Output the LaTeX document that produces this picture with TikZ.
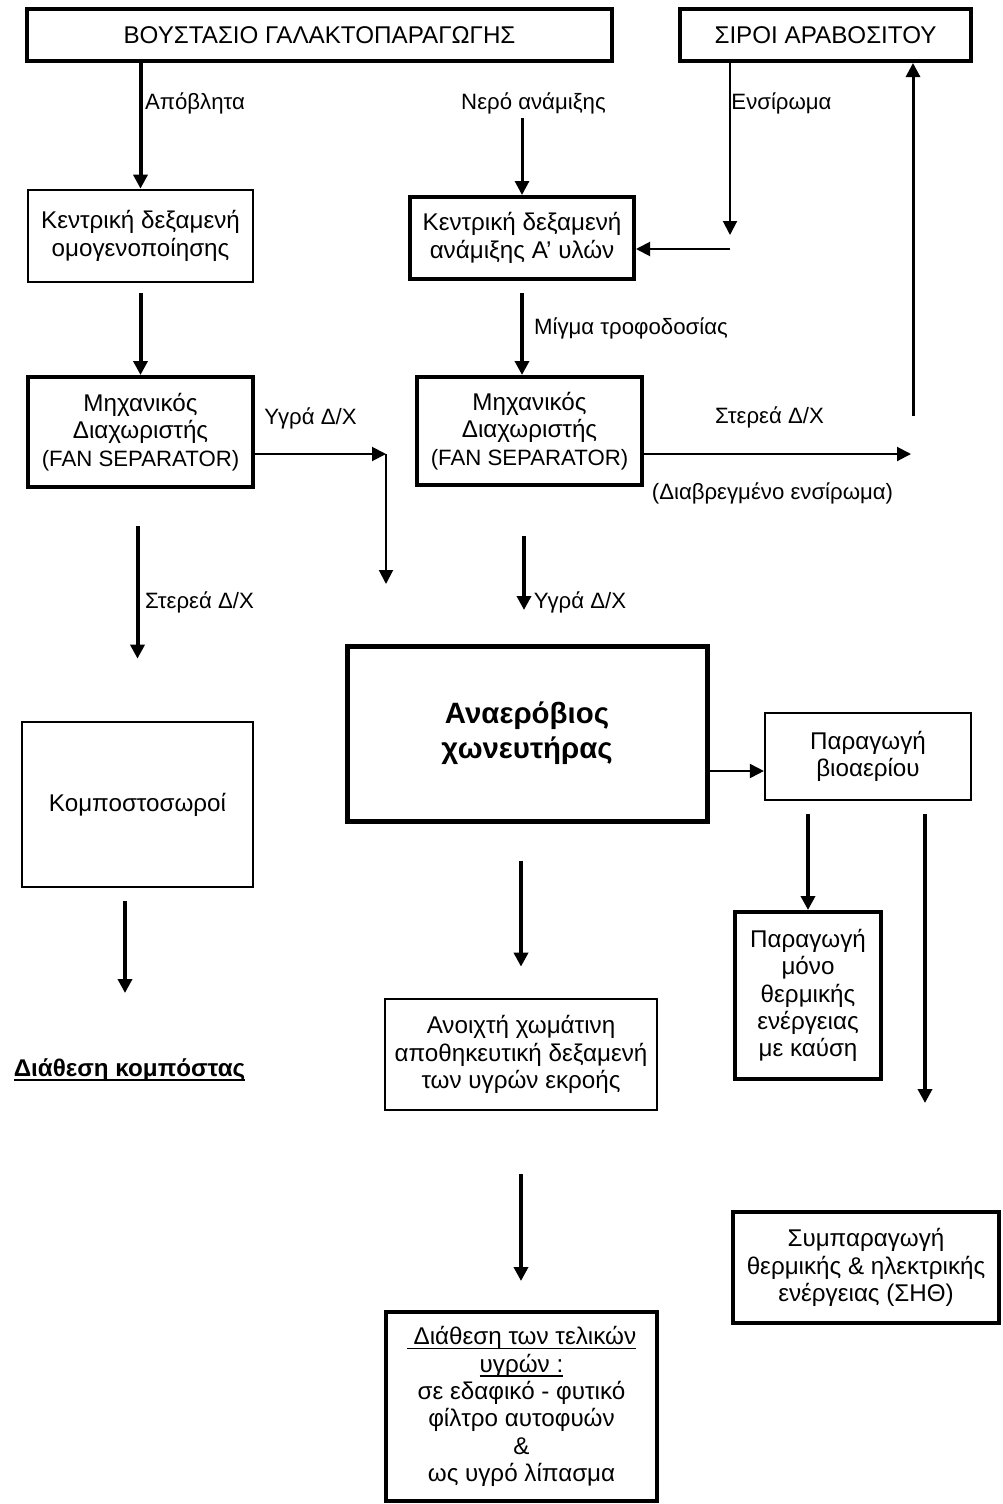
\documentclass[tikz,border=0pt]{standalone}
\usepackage{fontspec}
\setmainfont{Liberation Sans}
\usepackage{tikz}
\usetikzlibrary{arrows.meta}
\newcommand{\ulined}[1]{\setbox0=\hbox{#1}\rlap{\rule[-4.5pt]{\wd0}{1.6pt}}\box0}
\newcommand{\minor}{\fontsize{22.2}{25}\selectfont}

\begin{document}
\begin{tikzpicture}[x=1pt, y=-1pt, >={Triangle[length=14pt, width=14pt]}, font=\fontsize{24.2}{27.4}\selectfont]
        \tikzstyle{block}=[rectangle, draw, align=center, inner sep=0pt, line width=2.7pt]
        \tikzstyle{heavy}=[block, line width=4pt]
        \tikzstyle{lbl}=[inner sep=0pt, align=center, font=\minor]
        \tikzstyle{flow}=[->, line width=4pt]
        \tikzstyle{feed}=[->, line width=3pt]
        \tikzstyle{link}=[->, line width=2pt]
        \useasboundingbox (0,0) rectangle (1002,1504);

        \node[heavy, minimum width=585pt, minimum height=52pt] (farm) at (319.5,35) {ΒΟΥΣΤΑΣΙΟ ΓΑΛΑΚΤΟΠΑΡΑΓΩΓΗΣ};
        \node[heavy, minimum width=291pt, minimum height=52pt] (silo) at (825.5,35) {ΣΙΡΟΙ ΑΡΑΒΟΣΙΤΟΥ};
        \node[block, minimum width=225pt, minimum height=92pt] (homog) at (140.5,236) {Κεντρική δεξαμενή\\ομογενοποίησης};
        \node[heavy, minimum width=224pt, minimum height=82pt] (mixtank) at (522,238) {Κεντρική δεξαμενή\\ανάμιξης Α’ υλών};
        \node[heavy, minimum width=225pt, minimum height=110pt] (sep1) at (140.5,432) {Μηχανικός\\Διαχωριστής\\{\minor (FAN SEPARATOR)}};
        \node[heavy, minimum width=225pt, minimum height=108pt] (sep2) at (529.5,431) {Μηχανικός\\Διαχωριστής\\{\minor (FAN SEPARATOR)}};
        \node[heavy, line width=5pt, minimum width=360pt, minimum height=175pt, font=\fontsize{29.4}{35}\selectfont\bfseries] (digest) at (527,733.5) {Αναερόβιος\\χωνευτήρας};
        \node[block, line width=2.2pt, minimum width=206pt, minimum height=87pt] (biogas) at (868,756.5) {Παραγωγή\\βιοαερίου};
        \node[block, minimum width=231pt, minimum height=165pt] (compost) at (137.5,804.5) {Κομποστοσωροί};
        \node[heavy, minimum width=146pt, minimum height=167pt] (heat) at (808,995.5) {Παραγωγή\\μόνο\\θερμικής\\ενέργειας\\με καύση};
        \node[block, minimum width=272pt, minimum height=111pt] (storage) at (521,1054.5) {Ανοιχτή χωμάτινη\\αποθηκευτική δεξαμενή\\των υγρών εκροής};
        \node[heavy, minimum width=266pt, minimum height=111pt] (chp) at (866,1267.5) {Συμπαραγωγή\\θερμικής \& ηλεκτρικής\\ενέργειας (ΣΗΘ)};
        \node[heavy, minimum width=271pt, minimum height=189pt] (final) at (521.5,1406.5) {\ulined{\ Διάθεση των τελικών}\\\ulined{υγρών :}\\σε εδαφικό - φυτικό\\φίλτρο αυτοφυών\\\&\\ως υγρό λίπασμα};
        \node[inner sep=0pt, font=\fontsize{24.2}{27.4}\selectfont\bfseries] (dispose) at (129.5,1070) {\ulined{Διάθεση κομπόστας}};

        \node[lbl] (lblWaste) at (195,103) {Απόβλητα};
        \node[lbl] (lblWater) at (533.5,103) {Νερό ανάμιξης};
        \node[lbl] (lblSilage) at (781.5,103) {Ενσίρωμα};
        \node[lbl] (lblWetL) at (310.5,418) {Υγρά Δ/Χ};
        \node[lbl] (lblSolidL) at (199.5,602) {Στερεά Δ/Χ};
        \node[lbl] (lblMix) at (631,328) {Μίγμα τροφοδοσίας};
        \node[lbl] (lblSolidR) at (769.5,417) {Στερεά Δ/Χ};
        \node[lbl] (lblSoaked) at (772.5,493) {(Διαβρεγμένο ενσίρωμα)};
        \node[lbl] (lblWetM) at (580,602) {Υγρά Δ/Χ};

        \coordinate (wetCorner) at (386,454);
        \coordinate (wetDrop) at (386,584);
        \coordinate (compostDrop) at (125,993);
        \coordinate (silageDrop) at (730,235);
        \coordinate (silageJoin) at (730,249);
        \coordinate (soakedEnd) at (911,454);
        \coordinate (returnFoot) at (913,416);
        \coordinate (wetMDrop) at (524,610);
        \coordinate (gasLine) at (735,771);
        \coordinate (chpDrop) at (925,1103);

        \draw[flow] (homog.north |- farm.south) -- (homog.north);
        \draw[flow, shorten <=10pt] (homog.south) -- (sep1.north);
        \draw[link] (sep1.east |- wetCorner) -- (wetCorner);
        \draw[link] (wetCorner) -- (wetDrop);
        \draw[flow, shorten <=37pt, shorten >=62pt] (sep1.south -| compost.north) -- (compost.north);
        \draw[flow, shorten <=13pt] (compost.south -| compostDrop) -- (compostDrop);
        \draw[feed, shorten <=4pt] (mixtank.north |- lblWater.south) -- (mixtank.north);
        \draw[link] (silo.south -| silageDrop) -- (silageDrop);
        \draw[link] (silageJoin) -- (mixtank.east |- silageJoin);
        \draw[flow, shorten <=12pt] (mixtank.south) -- (mixtank.south |- sep2.north);
        \draw[link] (sep2.east |- soakedEnd) -- (soakedEnd);
        \draw[feed] (returnFoot) -- (returnFoot |- silo.south);
        \draw[flow, shorten <=49pt] (sep2.south -| wetMDrop) -- (wetMDrop);
        \draw[link] (digest.east |- gasLine) -- (biogas.west |- gasLine);
        \draw[flow, shorten <=13pt] (heat.north |- biogas.south) -- (heat.north);
        \draw[flow, shorten <=13pt] (biogas.south -| chpDrop) -- (chpDrop);
        \draw[flow, shorten <=37pt, shorten >=31pt] (storage.north |- digest.south) -- (storage.north);
        \draw[flow, shorten <=63pt, shorten >=29pt] (storage.south) -- (storage.south |- final.north);
    \end{tikzpicture}
\end{document}
